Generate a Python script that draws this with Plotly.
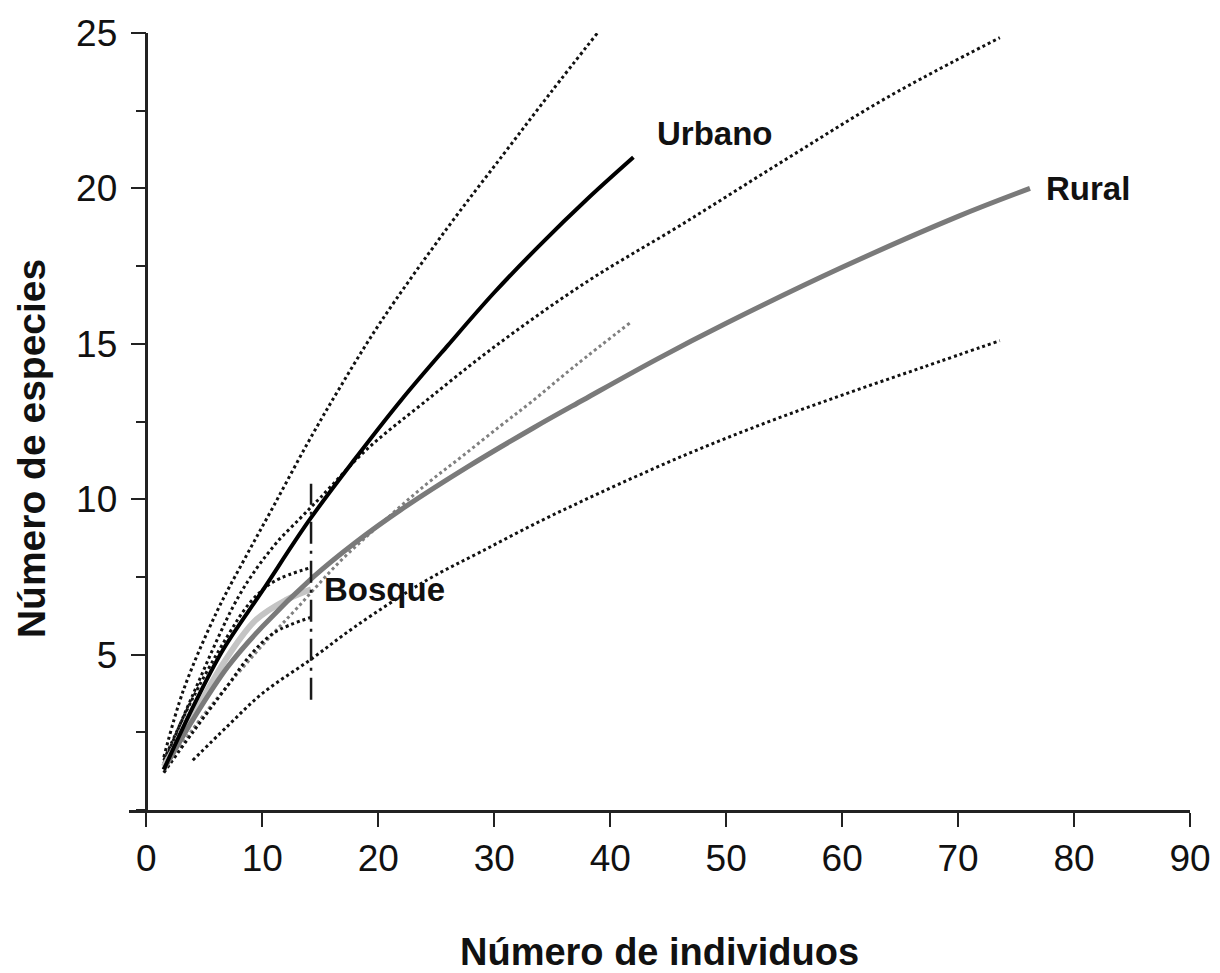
import plotly.graph_objects as go

# ---- data ----
urbano_x = [1.5, 4, 6.6, 10, 14, 18, 22, 26, 30, 34, 38, 42]
urbano_y = [1.3, 3.3, 5.15, 7.05, 9.3, 11.3, 13.2, 14.95, 16.65, 18.2, 19.65, 21.0]
urbano_hi_x = [1.5, 3.2, 6.1, 8.5, 11, 13.9, 16.7, 20.2, 25.9, 30.8, 34.9, 38.9]
urbano_hi_y = [1.7, 3.86, 6.4, 8.1, 9.8, 11.8, 13.6, 15.7, 18.7, 21.1, 23.1, 25.0]
urbano_lo_x = [1.5, 4, 7, 10, 13, 16.7, 20.2, 24.2, 27.3, 30.5, 33.1, 37, 41.8]
urbano_lo_y = [1.2, 2.6, 4.0, 5.3, 6.5, 8.0, 9.2, 10.5, 11.4, 12.35, 13.1, 14.3, 15.7]

rural_x = [1.5, 4, 7, 10, 14.4, 18, 21.9, 27.7, 33.4, 37.7, 44, 50, 60, 70, 76.2]
rural_y = [1.3, 2.9, 4.6, 5.9, 7.5, 8.6, 9.65, 11.04, 12.3, 13.2, 14.5, 15.66, 17.46, 19.1, 20.0]
rural_hi_x = [1.5, 4, 8, 11, 13.3, 15, 19, 23.9, 30, 38, 46, 55, 64, 73.6]
rural_hi_y = [1.5, 3.7, 6.9, 8.5, 9.4, 10.05, 11.6, 13.1, 14.9, 17.0, 18.8, 20.9, 22.95, 24.85]
rural_lo_x = [4, 7, 10, 14.2, 18, 24.2, 28.8, 34, 39.1, 46, 53, 60, 67, 73.6]
rural_lo_y = [1.6, 2.7, 3.75, 4.85, 5.9, 7.4, 8.3, 9.3, 10.2, 11.35, 12.4, 13.35, 14.25, 15.1]

bosque_x = [1.5, 4, 6.6, 9.4, 12, 14.2]
bosque_y = [1.4, 3.0, 4.7, 6.1, 6.75, 7.1]
bosque_hi_x = [1.5, 4, 7, 9, 11, 14.2]
bosque_hi_y = [1.6, 3.6, 5.6, 6.7, 7.35, 7.8]
bosque_lo_x = [1.5, 4, 7, 9, 11, 14.2]
bosque_lo_y = [1.2, 2.5, 4.0, 5.0, 5.7, 6.2]

cut_x = [14.2, 14.2]
cut_y = [3.55, 10.5]

x_ticks = [0, 10, 20, 30, 40, 50, 60, 70, 80, 90]
y_ticks = [5, 10, 15, 20, 25]

FONT = "Liberation Sans, Arial, Helvetica, sans-serif"
DOT = "3px,3px"

fig = go.Figure()

def add(x, y, color, width, dash=None):
    fig.add_trace(go.Scatter(
        x=x, y=y, mode="lines",
        line=dict(color=color, width=width, dash=dash, shape="spline", smoothing=1.0),
        showlegend=False, hoverinfo="skip"))

# confidence curves (dotted)
add(urbano_hi_x, urbano_hi_y, "#111111", 3, DOT)
add(urbano_lo_x, urbano_lo_y, "#808080", 3, DOT)
add(rural_hi_x, rural_hi_y, "#111111", 3, DOT)
add(rural_lo_x, rural_lo_y, "#111111", 3, DOT)
add(bosque_hi_x, bosque_hi_y, "#111111", 3, DOT)
add(bosque_lo_x, bosque_lo_y, "#111111", 3, DOT)

# main curves
add(bosque_x, bosque_y, "#c4c4c4", 6)
add(rural_x, rural_y, "#7a7a7a", 5)
add(urbano_x, urbano_y, "#000000", 4)

# vertical cut line
fig.add_trace(go.Scatter(
    x=cut_x, y=cut_y, mode="lines",
    line=dict(color="#1a1a1a", width=2.5, dash="22px,7px,3px,7px"),
    showlegend=False, hoverinfo="skip"))

labels = [("Urbano", urbano_x[-1], urbano_y[-1], 22, 24),
          ("Rural", rural_x[-1], rural_y[-1], 14, 0),
          ("Bosque", bosque_x[-1], bosque_y[-1], 11, 0)]
for txt, lx, ly, dx, dy in labels:
    fig.add_annotation(x=lx, y=ly, text="<b>%s</b>" % txt, showarrow=False,
                       xanchor="left", yanchor="middle", xshift=dx, yshift=dy,
                       font=dict(family=FONT, size=33, color="#111111"))

fig.add_annotation(xref="paper", yref="paper", x=0.5, y=-0.183,
                   text="<b>Número de individuos</b>", showarrow=False,
                   xanchor="center", yanchor="middle",
                   font=dict(family=FONT, size=38, color="#111111"))
fig.add_annotation(xref="paper", yref="paper", x=-0.092, y=0.465,
                   text="<b>Número de especies</b>", showarrow=False, textangle=-90,
                   xanchor="center", yanchor="middle",
                   font=dict(family=FONT, size=39, color="#111111"))

# page has an 8px body margin: shrink the figure so the plot lands at the reference pixels
fig.update_layout(
    width=1212, height=965,
    margin=dict(l=121, r=30, t=25, b=163, autoexpand=False),
    paper_bgcolor="white", plot_bgcolor="white",
    font=dict(family=FONT, color="#111111"),
    xaxis=dict(range=[-1.5, 90], tickvals=x_ticks, ticks="outside", ticklen=14,
               tickwidth=2, tickcolor="#222222", showline=True, linewidth=2.5,
               linecolor="#222222", showgrid=False, zeroline=False, automargin=False,
               tickfont=dict(family=FONT, size=37, color="#111111")),
    yaxis=dict(range=[0, 25], tickvals=y_ticks, ticks="outside", ticklen=15,
               tickwidth=2, tickcolor="#222222", showline=True, linewidth=2.5,
               linecolor="#222222", showgrid=False, zeroline=False, automargin=False,
               anchor="free", position=1.5 / 91.5, ticklabelstandoff=6,
               minor=dict(dtick=2.5, ticks="outside", ticklen=10, tickwidth=2,
                          tickcolor="#222222", showgrid=False),
               tickfont=dict(family=FONT, size=37, color="#111111")),
)

fig.write_html("out.html")
